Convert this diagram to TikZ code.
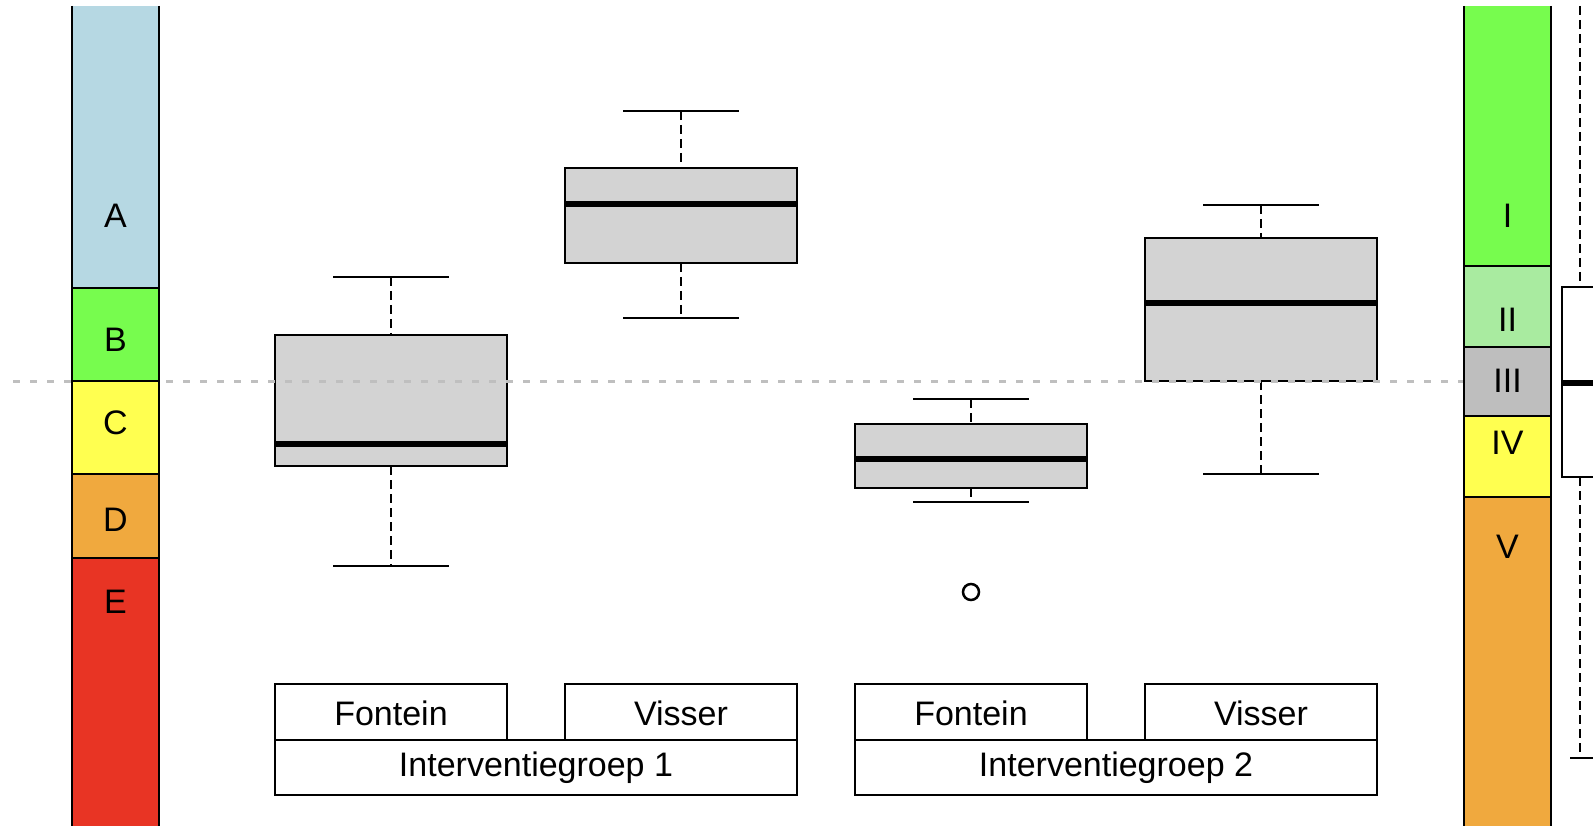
\documentclass[tikz,border=0pt]{standalone}
\usepackage{fontspec}
\setmainfont{Liberation Sans}
\definecolor{boxgray}{HTML}{D3D3D3}
\definecolor{refgray}{HTML}{BFBFBF}
\definecolor{cA}{HTML}{B6D8E3}
\definecolor{cB}{HTML}{77FC4E}
\definecolor{cC}{HTML}{FFFF50}
\definecolor{cD}{HTML}{F0A93E}
\definecolor{cE}{HTML}{E83424}
\definecolor{cII}{HTML}{A9EBA0}
\definecolor{cIII}{HTML}{BEBEBE}
\newcommand{\mybxp}[8]{%
  \draw[whisk] (#3,#7) -- (#3,#4);
  \draw[whisk] (#3,#5) -- (#3,#8);
  \draw[capl] (#3-58,#7) -- (#3+58,#7);
  \draw[capl] (#3-58,#8) -- (#3+58,#8);
  \draw[boxst] (#1,#4) rectangle (#2,#5);
  \draw[med] (#1+1,#6) -- (#2-1,#6);
}
\begin{document}
\begin{tikzpicture}[x=1pt,y=-1pt,
  lbl/.style={font=\fontsize{34}{40}\selectfont, inner sep=0pt},
  boxst/.style={draw=black, line width=2.2pt, fill=boxgray},
  med/.style={line width=6pt},
  whisk/.style={line width=2pt, dash pattern=on 9pt off 5pt},
  capl/.style={line width=2.2pt},
  barline/.style={line width=2pt},
  refline/.style={draw=refgray, line width=3pt, dash pattern=on 7pt off 10pt},
  tab/.style={draw=black, line width=2pt, fill=white}]
\useasboundingbox (0,0) rectangle (1593,826);
\clip (0,0) rectangle (1593,826);
% boxplots
\mybxp{275}{507}{391}{335}{466}{444}{277}{566}
\mybxp{565}{797}{681}{168}{263}{204}{111}{318}
\mybxp{855}{1087}{971}{424}{488}{459}{399}{502}
\mybxp{1145}{1377}{1261}{238}{381}{303}{205}{474}
\draw[line width=2.5pt] (971,592) circle[radius=8];
% reference line
\draw[refline] (13,381) -- (1555,381);
% left bar
\fill[cA] (72,6) rectangle (159,288);
\fill[cB] (72,288) rectangle (159,381);
\fill[cC] (72,381) rectangle (159,474);
\fill[cD] (72,474) rectangle (159,558);
\fill[cE] (72,558) rectangle (159,826);
\foreach \yy in {288,381,474,558} \draw[barline] (72,\yy) -- (159,\yy);
\draw[barline] (72,6) -- (72,826);
\draw[barline] (159,6) -- (159,826);
\node[lbl] (lA) at (115.5,216) {A};
\node[lbl] (lB) at (115.5,340) {B};
\node[lbl] (lC) at (115.5,423) {C};
\node[lbl] (lD) at (115.5,520) {D};
\node[lbl] (lE) at (115.5,602) {E};
% right bar
\fill[cB] (1464,6) rectangle (1551,266);
\fill[cII] (1464,266) rectangle (1551,347);
\fill[cIII] (1464,347) rectangle (1551,416);
\fill[cC] (1464,416) rectangle (1551,497);
\fill[cD] (1464,497) rectangle (1551,826);
\foreach \yy in {266,347,416,497} \draw[barline] (1464,\yy) -- (1551,\yy);
\draw[barline] (1464,6) -- (1464,826);
\draw[barline] (1551,6) -- (1551,826);
\node[lbl] (rI) at (1507.5,216) {I};
\node[lbl] (rII) at (1507.5,320) {II};
\node[lbl] (rIII) at (1507.5,381) {III};
\node[lbl] (rIV) at (1507.5,443) {IV};
\node[lbl] (rV) at (1507.5,547) {V};
% partial box at right edge
\draw[whisk] (1580,6) -- (1580,287);
\draw[whisk] (1580,477) -- (1580,758);
\draw[capl] (1570,758) -- (1600,758);
\draw[line width=2.2pt, fill=white] (1562,287) rectangle (1605,477);
\draw[med] (1563,383) -- (1600,383);
% group labels
\draw[tab] (275,684) rectangle (507,740);
\draw[tab] (565,684) rectangle (797,740);
\draw[tab] (275,740) rectangle (797,795);
\draw[tab] (855,684) rectangle (1087,740);
\draw[tab] (1145,684) rectangle (1377,740);
\draw[tab] (855,740) rectangle (1377,795);
\node[lbl, anchor=base] (f1) at (391,725) {Fontein};
\node[lbl, anchor=base] (v1) at (681,725) {Visser};
\node[lbl, anchor=base] (g1) at (536,776) {Interventiegroep 1};
\node[lbl, anchor=base] (f2) at (971,725) {Fontein};
\node[lbl, anchor=base] (v2) at (1261,725) {Visser};
\node[lbl, anchor=base] (g2) at (1116,776) {Interventiegroep 2};
\end{tikzpicture}
\end{document}
